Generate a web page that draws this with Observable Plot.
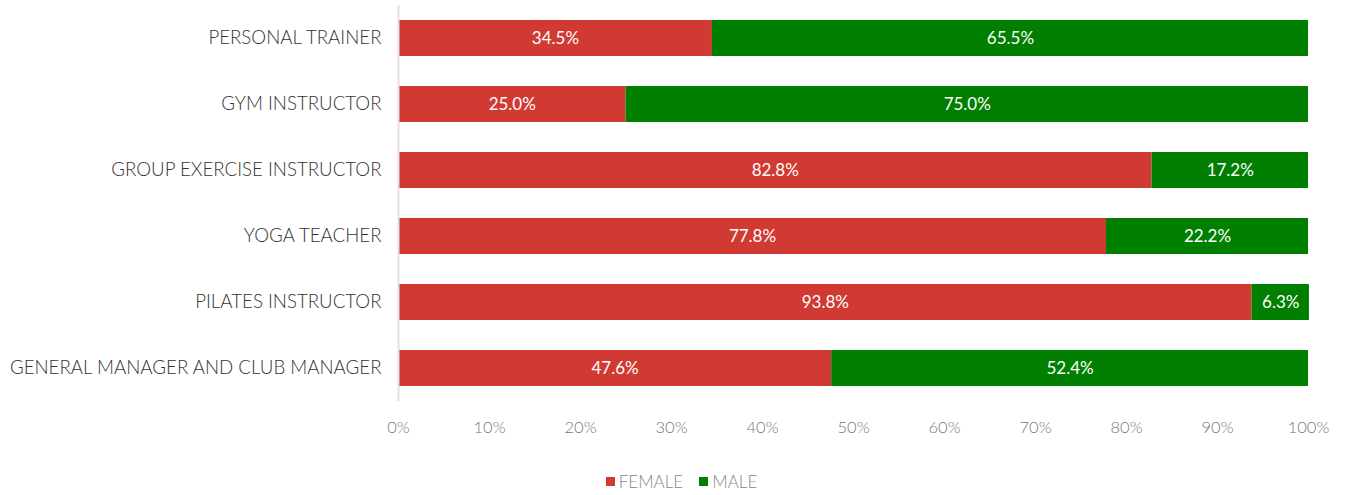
<!DOCTYPE html>
<html>
<head>
<meta charset="utf-8">
<script src="https://cdn.jsdelivr.net/npm/d3@7"></script>
<script src="https://cdn.jsdelivr.net/npm/@observablehq/plot@0.6"></script>
<style>
  body { margin: 0; background: #fff; font-family: Lato, "Open Sans", sans-serif; }
  #legend { display: flex; justify-content: center; gap: 16px; margin-top: 16px; padding-left: 14px;
            font-size: 17px; color: #888; font-weight: 300; }
  #legend span.sw { display: inline-block; width: 9px; height: 9px; margin-right: 4px; }
  #legend .item { display: flex; align-items: center; }
</style>
</head>
<body>
<div id="chart"></div>
<div id="legend"></div>
<script>
const jobs = ["PERSONAL TRAINER", "GYM INSTRUCTOR", "GROUP EXERCISE INSTRUCTOR", "YOGA TEACHER", "PILATES INSTRUCTOR", "GENERAL MANAGER AND CLUB MANAGER"];
const female = [34.5, 25.0, 82.8, 77.8, 93.8, 47.6];
const male = [65.5, 75.0, 17.2, 22.2, 6.3, 52.4];
const series = ["FEMALE", "MALE"];
const colors = ["#d03a33", "#017f01"];
const xTicks = [0, 10, 20, 30, 40, 50, 60, 70, 80, 90, 100];

const rows = [];
jobs.forEach((j, i) => {
  rows.push({job: j, sex: "FEMALE", value: female[i]});
  rows.push({job: j, sex: "MALE", value: male[i]});
});

const chart = Plot.plot({
  width: 1349,
  height: 455,
  marginLeft: 398,
  marginRight: 41,
  marginTop: 5,
  marginBottom: 54,
  style: {fontFamily: "Lato, 'Open Sans', sans-serif", background: "#fff"},
  x: {domain: [0, 100], ticks: xTicks, tickFormat: d => d + "%", label: null, tickSize: 0, tickPadding: 20},
  y: {domain: jobs, label: null, paddingInner: 0.4545, paddingOuter: 0.227, tickSize: 0, tickPadding: 17},
  color: {domain: series, range: colors},
  marks: [
    Plot.barX(rows, Plot.stackX({x: "value", y: "job", fill: "sex", order: series})),
    Plot.ruleX([0], {stroke: "#e2e2e2", strokeWidth: 2}),
    Plot.textX(rows, Plot.stackX({x: "value", y: "job", z: "sex", order: series,
      text: d => d.value.toFixed(1) + "%", fill: "white", fontSize: 17})),
    Plot.axisX({ticks: xTicks, tickFormat: d => d + "%", tickSize: 0, tickPadding: 20, fontSize: 16.5, fontWeight: 300, color: "#777", label: null}),
    Plot.axisY({tickSize: 0, tickPadding: 17, fontSize: 18.7, fontWeight: 300, color: "#333", label: null})
  ]
});
document.getElementById("chart").appendChild(chart);

const legend = document.getElementById("legend");
series.forEach((s, i) => {
  const it = document.createElement("div");
  it.className = "item";
  const sw = document.createElement("span");
  sw.className = "sw";
  sw.style.background = colors[i];
  it.appendChild(sw);
  it.appendChild(document.createTextNode(s));
  legend.appendChild(it);
});
</script>
</body>
</html>
